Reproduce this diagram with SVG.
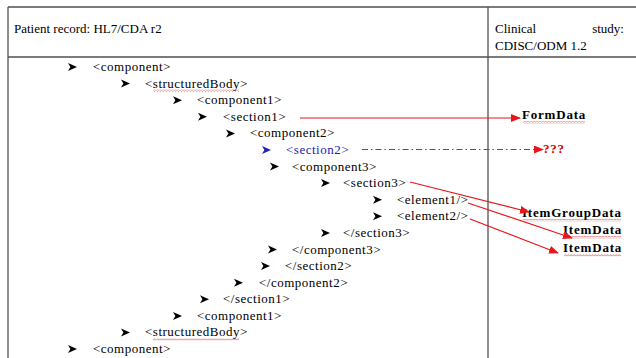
<svg xmlns="http://www.w3.org/2000/svg" width="636" height="358" viewBox="0 0 636 358">
<style>
.t{font-family:"Liberation Serif","Times New Roman","DejaVu Serif",serif;font-size:13px;letter-spacing:0.5px;fill:#000}
.b{fill:#2222bb}
.h{font-family:"Liberation Serif","Times New Roman","DejaVu Serif",serif;font-size:13px;fill:#000}
.lbl{font-family:"Liberation Serif","Times New Roman","DejaVu Serif",serif;font-size:13px;font-weight:bold;letter-spacing:0.8px;fill:#000}
.q{font-family:"Liberation Serif","Times New Roman","DejaVu Serif",serif;font-size:13px;font-weight:bold;letter-spacing:0.8px;fill:#e00000}
.grid{stroke:#505050;stroke-width:1.3;fill:none}
.c{stroke:#e8161c;stroke-width:1.2;fill:none}
.sq{fill:url(#squig)}
</style>
<defs>
<path id="bul" d="M0,-4 L9,0 L0,4 L2.4,0 Z"/>
<marker id="ah" markerWidth="10" markerHeight="8" refX="9" refY="4" orient="auto" markerUnits="userSpaceOnUse">
<path d="M0,0 L10,4 L0,8 Z" fill="#e8161c"/>
</marker>
<pattern id="squig" width="3" height="2.4" patternUnits="userSpaceOnUse">
<path d="M0,2 L1.5,0.4 L3,2" stroke="#d03030" stroke-width="0.6" fill="none"/>
</pattern>
</defs>
<rect width="636" height="358" fill="#fff"/>
<g id="table">
<path class="grid" d="M8,7 H636 M8,57 H636 M8,7 V358 M488,7 V358"/>
</g>
<g id="header">
<text class="h" x="14" y="33">Patient record: HL7/CDA r2</text>
<text class="h" x="495" y="33">Clinical</text>
<text class="h" x="624" y="33" text-anchor="end">study:</text>
<text class="h" x="495" y="50">CDISC/ODM 1.2</text>
</g>
<g id="tree">
<use href="#bul" x="68" y="67"/><text class="t" x="93" y="71">&lt;component&gt;</text>
<use href="#bul" x="121" y="83.6"/><text class="t" x="145" y="87.6">&lt;structuredBody&gt;</text>
<use href="#bul" x="173" y="100.2"/><text class="t" x="197" y="104.2">&lt;component1&gt;</text>
<use href="#bul" x="198" y="116.8"/><text class="t" x="223" y="120.8">&lt;section1&gt;</text>
<use href="#bul" x="226" y="133.4"/><text class="t" x="250" y="137.4">&lt;component2&gt;</text>
<use href="#bul" x="262" y="150" fill="#2222bb"/><text class="t b" x="286" y="154">&lt;section2&gt;</text>
<use href="#bul" x="270" y="166.5"/><text class="t" x="292" y="170.5">&lt;component3&gt;</text>
<use href="#bul" x="321" y="183.1"/><text class="t" x="343" y="187.1">&lt;section3&gt;</text>
<use href="#bul" x="373" y="199.7"/><text class="t" x="397" y="203.7">&lt;element1/&gt;</text>
<use href="#bul" x="373" y="216.3"/><text class="t" x="397" y="220.3">&lt;element2/&gt;</text>
<use href="#bul" x="321" y="232.9"/><text class="t" x="343" y="236.9">&lt;/section3&gt;</text>
<use href="#bul" x="268" y="249.5"/><text class="t" x="292" y="253.5">&lt;/component3&gt;</text>
<use href="#bul" x="261" y="266.1"/><text class="t" x="285" y="270.1">&lt;/section2&gt;</text>
<use href="#bul" x="234" y="282.7"/><text class="t" x="259" y="286.7">&lt;/component2&gt;</text>
<use href="#bul" x="200" y="299.3"/><text class="t" x="223" y="303.3">&lt;/section1&gt;</text>
<use href="#bul" x="173" y="315.9"/><text class="t" x="197" y="319.9">&lt;component1&gt;</text>
<use href="#bul" x="121" y="332.4"/><text class="t" x="145" y="336.4">&lt;structuredBody&gt;</text>
<use href="#bul" x="68" y="349"/><text class="t" x="93" y="353">&lt;component&gt;</text>
<rect class="sq" x="153" y="89.5" width="86" height="2.4"/>
<rect class="sq" x="153" y="338.3" width="86" height="2.4"/>
</g>
<g id="FormData"><text class="lbl" x="522" y="119">FormData</text><rect class="sq" x="523" y="121" width="62" height="2.4"/></g>
<g id="Unknown"><text class="q" x="543" y="153">???</text></g>
<g id="ItemGroupData"><text class="lbl" x="522" y="217">ItemGroupData</text><rect class="sq" x="523" y="219" width="98" height="2.4"/></g>
<g id="ItemData1"><text class="lbl" x="563" y="234">ItemData</text><rect class="sq" x="564" y="236" width="57" height="2.4"/></g>
<g id="ItemData2"><text class="lbl" x="563" y="252">ItemData</text><rect class="sq" x="564" y="254" width="57" height="2.4"/></g>
<g id="connectors">
<line class="c" x1="300" y1="118" x2="520" y2="118" marker-end="url(#ah)"/>
<line class="c" x1="362" y1="149.5" x2="543" y2="149.5" stroke-dasharray="6,3,1.5,3" marker-end="url(#ah)"/>
<line class="c" x1="410" y1="182" x2="529" y2="212" marker-end="url(#ah)"/>
<line class="c" x1="468" y1="203" x2="572" y2="238" marker-end="url(#ah)"/>
<line class="c" x1="470" y1="219" x2="558" y2="253" marker-end="url(#ah)"/>
</g>
</svg>
